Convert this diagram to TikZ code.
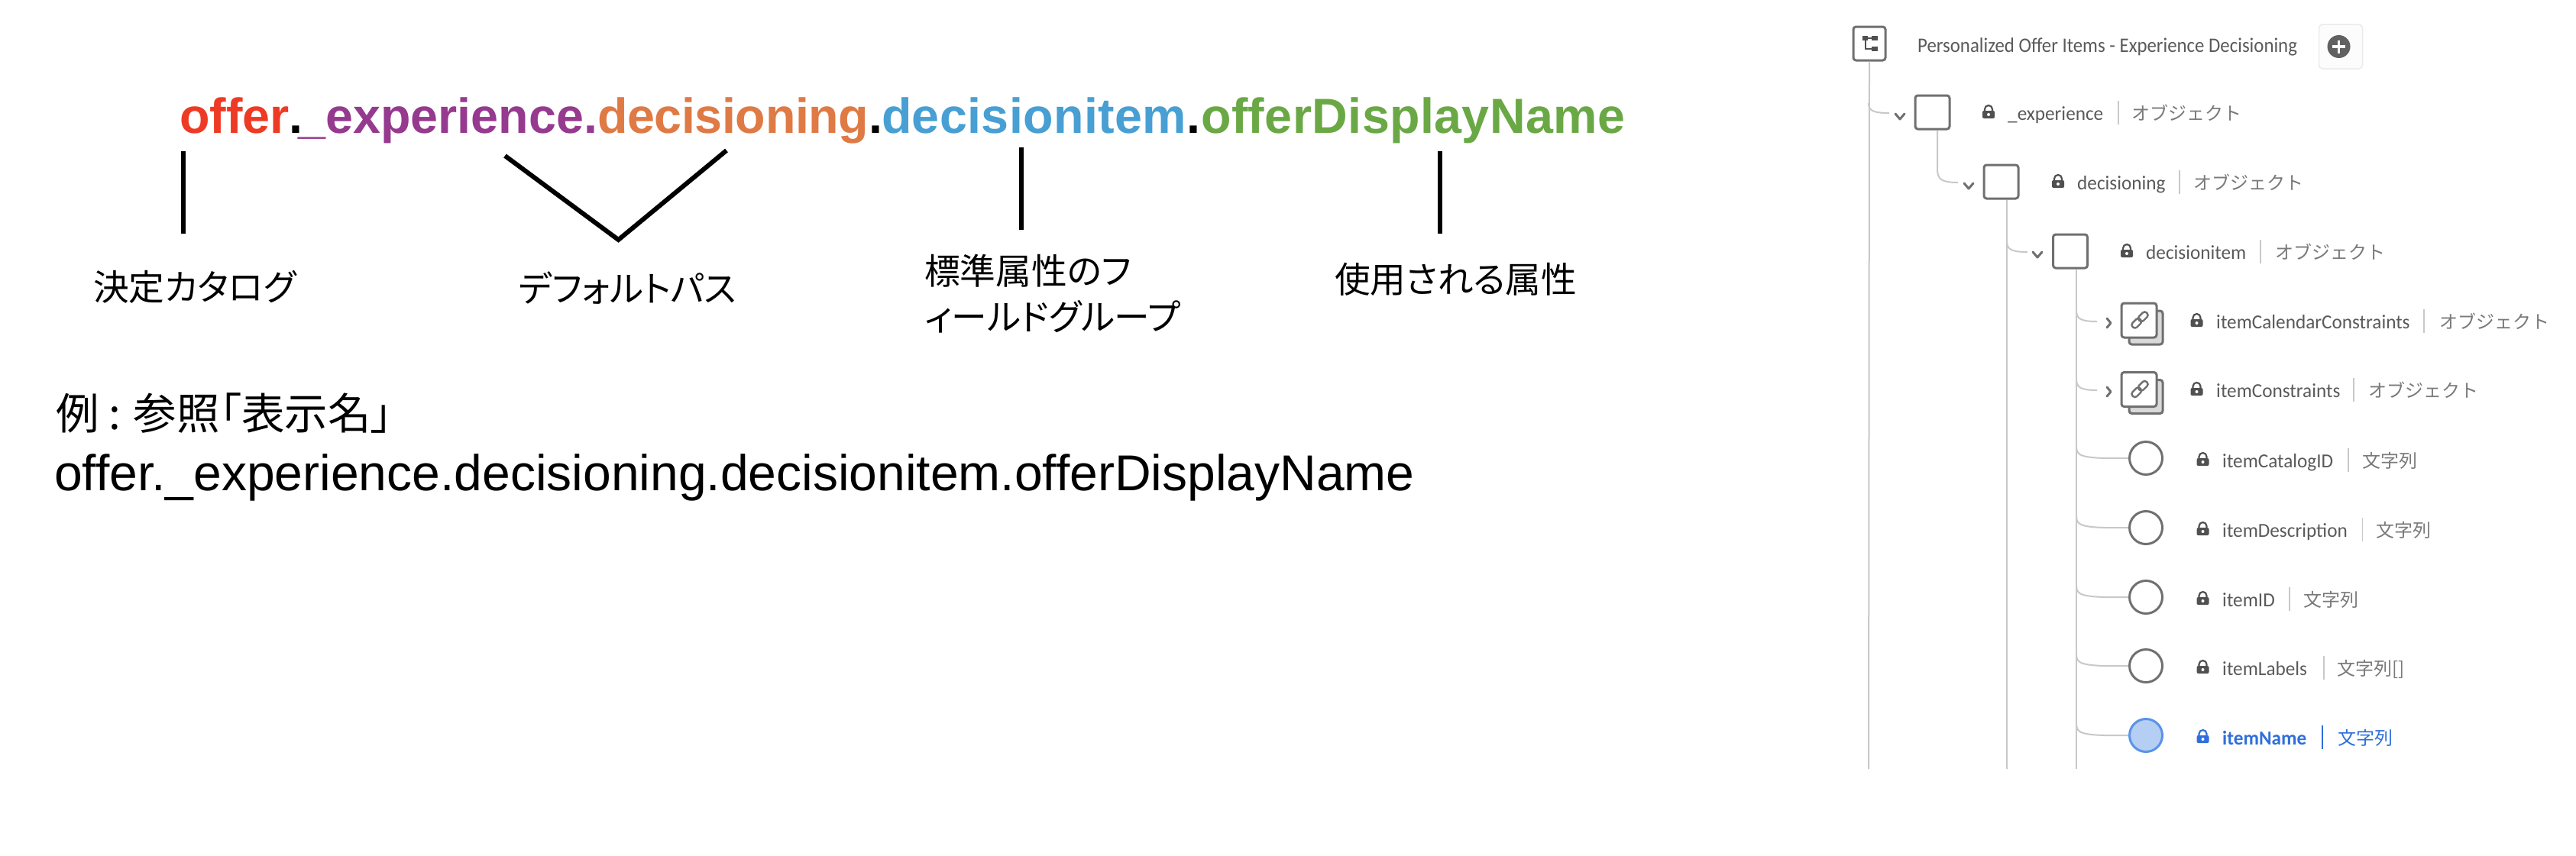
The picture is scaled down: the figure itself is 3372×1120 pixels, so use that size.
\documentclass[tikz,border=0pt]{standalone}
\usepackage{fontspec}
\setmainfont{Liberation Sans}
\newfontfamily\jpf[RawFeature=+palt]{Noto Sans CJK JP}
\newfontfamily\jpfull{Noto Sans CJK JP}
\newfontfamily\uif{Carlito}
\definecolor{cred}{HTML}{EE3A25}
\definecolor{cpurple}{HTML}{953A8F}
\definecolor{corange}{HTML}{DF7A45}
\definecolor{cblue}{HTML}{479FD3}
\definecolor{cgreen}{HTML}{6AA845}
\definecolor{uitext}{HTML}{5A5A5A}
\definecolor{uitype}{HTML}{7A7A7A}
\definecolor{uiline}{HTML}{C8C8C8}
\definecolor{uibox}{HTML}{707070}
\definecolor{uidark}{HTML}{505050}
\definecolor{selblue}{HTML}{2F6FDB}
\definecolor{selfill}{HTML}{B5CEF3}
\definecolor{selline}{HTML}{5A93E8}
\tikzset{
  x=1pt,y=-1pt,
  pointer/.style={line width=6pt,black},
  caption/.style={inner sep=0pt,anchor=west,font=\jpf\fontsize{46.7}{60}\selectfont,align=left},
  pathtext/.style={inner sep=0pt,anchor=base west},
  uiname/.style={inner sep=0pt,anchor=base west,text=uitext,font=\uif\fontsize{26}{30}\selectfont},
  uitypel/.style={inner sep=0pt,anchor=base west,text=uitype,font=\jpfull\fontsize{24}{30}\selectfont},
  uisep/.style={draw=uiline,line width=1.5pt},
  conn/.style={draw=uiline,line width=2pt},
  objbox/.style={draw=uibox,fill=white,line width=3pt,rounded corners=3.5pt,minimum width=45pt,minimum height=44pt,inner sep=0pt},
  backbox/.style={draw=uibox,fill=black!15,line width=3pt,rounded corners=3.5pt,minimum width=44pt,minimum height=44pt,inner sep=0pt},
  leaf/.style={circle,draw=uibox,fill=white,line width=3pt,minimum size=43pt,inner sep=0pt},
  chev/.style={draw=uibox,line width=3pt,line cap=round,line join=round},
}
% lock icon at (x,y) in colour c
\newcommand{\lockicon}[3]{%
  \fill[#3,rounded corners=2pt] (#1-8,#2-1) rectangle (#1+8,#2+9);
  \draw[#3,line width=2.2pt] (#1-5,#2-1) -- (#1-5,#2-3) arc[start angle=180,end angle=360,radius=5] -- (#1+5,#2-1);
  \fill[white] (#1,#2+4) circle (2);
}
\newcommand{\linkicon}[2]{%
  \begin{scope}[shift={(#1,#2)},rotate=45]
    \draw[uibox,line width=2.4pt,rounded corners=3.5pt] (-13,-4) rectangle (1,4);
    \draw[uibox,line width=2.4pt,rounded corners=3.5pt] (-1,-4) rectangle (13,4);
  \end{scope}}
\newcommand{\nm}[1]{\scalebox{.97}[1]{#1}}
\begin{document}
\begin{tikzpicture}
\path[fill=white] (0,0) rectangle (3372,1120);
\useasboundingbox (0,0) rectangle (3372,1120);

% ---------- path ----------
\node[pathtext,font=\bfseries\fontsize{64.6}{70}\selectfont] (title) at (235,174)
 {\textcolor{cred}{offer}.\kern-6pt\textcolor{cpurple}{\_experience.}\textcolor{corange}{\addfontfeature{LetterSpace=-0.6}decisioning}.\kern-1pt\textcolor{cblue}{\addfontfeature{LetterSpace=0.6}decisionitem}.\kern1pt\textcolor{cgreen}{\addfontfeature{LetterSpace=0.6}offerDisplayName}};

\coordinate (p1a) at (240,198); \coordinate (p1b) at (240,306);
\draw[pointer] (p1a) -- (p1b);
\coordinate (v1) at (661,204); \coordinate (v2) at (809.5,314); \coordinate (v3) at (951,197);
\draw[pointer] (v1) -- (v2) -- (v3);
\coordinate (p3a) at (1336.5,193); \coordinate (p3b) at (1336.5,301);
\draw[pointer] (p3a) -- (p3b);
\coordinate (p4a) at (1884.5,198); \coordinate (p4b) at (1884.5,306);
\draw[pointer] (p4a) -- (p4b);

\node[caption] (c1) at (122,376) {決定カタログ};
\node[caption] (c2) at (679,377) {デフォルトパス};
\node[caption] (c3) at (1210,385) {標準属性のフ\\ィールドグループ};
\node[caption] (c4) at (1747,366) {使用される属性};

\node[inner sep=0pt,anchor=west,font=\jpf\fontsize{56.5}{60}\selectfont] (ex1) at (73,541) {例 : 参照「表示名」};
\node[pathtext,font=\fontsize{66}{70}\selectfont] (ex2) at (71,642) {offer.\_experience.decisioning.decisionitem.offerDisplayName};

% ---------- tree connectors ----------
\node[objbox,minimum width=42pt,minimum height=44pt] (root) at (2447,57) {};
\node[objbox] (b1) at (2529.5,147) {};
\node[objbox] (b2) at (2619.5,238) {};
\node[objbox] (b3) at (2710,329) {};
\node[backbox] (s1b) at (2809,429) {};
\node[objbox,minimum width=46pt,minimum height=45pt] (s1) at (2800,419.5) {};
\node[backbox] (s2b) at (2809,519.5) {};
\node[objbox,minimum width=46pt,minimum height=45pt] (s2) at (2800,510) {};
\node[leaf] (l1) at (2809,600) {};
\node[leaf] (l2) at (2809,691) {};
\node[leaf] (l3) at (2809,782) {};
\node[leaf] (l4) at (2809,872) {};
\node[leaf,draw=selline,fill=selfill] (l5) at (2809,963) {};

\coordinate (t0end) at (2446,1007);
\coordinate (t1end) at (2627,1007);
\coordinate (t2end) at (2718,1007);
\draw[conn] (root.south) -- (t0end);
\draw[conn] (b2.south -| t1end) -- (t1end);
\draw[conn] (b3.south -| t2end) -- (t2end);
\draw[conn] (2446,135) .. controls (2446,145) and (2452,148) .. (2473,148);
\draw[conn] (b1.south -| 2536,0) -- (2536,222) .. controls (2536,235) and (2542,239) .. (2563,239);
\draw[conn] (2627,316) .. controls (2627,326) and (2632,330) .. (2654,330);
\draw[conn] (2718,407) .. controls (2718,417) and (2723,421) .. (2745,421);
\draw[conn] (2718,497) .. controls (2718,507) and (2723,511) .. (2745,511);
\draw[conn] (2718,585) .. controls (2718,597) and (2723,601) .. (l1.west);
\draw[conn] (2718,676) .. controls (2718,688) and (2723,692) .. (l2.west);
\draw[conn] (2718,767) .. controls (2718,779) and (2723,783) .. (l3.west);
\draw[conn] (2718,857) .. controls (2718,869) and (2723,873) .. (l4.west);
\draw[conn] (2718,948) .. controls (2718,960) and (2723,964) .. (l5.west);

% root icon
\fill[uidark] (2438,47) rectangle (2445,53);
\fill[uidark] (2450,47) rectangle (2458,53);
\fill[uidark] (2450,61) rectangle (2458,67);
\draw[uidark,line width=2pt] (2441.5,53) -- (2441.5,64) -- (2450,64);
\draw[uidark,line width=2pt] (2445,50) -- (2450,50);

% chevrons
\draw[chev] (2481,149) -- (2487,156) -- (2493,149);
\draw[chev] (2571,240) -- (2577,247) -- (2583,240);
\draw[chev] (2661,330) -- (2667,337) -- (2673,330);
\draw[chev] (2758,417) -- (2763,423) -- (2758,429);
\draw[chev] (2758,507) -- (2763,513) -- (2758,519);
\linkicon{2801}{419}
\linkicon{2801}{509.5}

% title row
\node[inner sep=0pt,anchor=base west,text=uitext,font=\uif\fontsize{27}{30}\selectfont] (rt) at (2510,68) {\scalebox{.92}[1]{Personalized Offer Items - Experience Decisioning}};
\node[draw=black!8,fill=black!1,line width=1.5pt,rounded corners=5pt,minimum width=57pt,minimum height=58pt,inner sep=0pt] (addbtn) at (3064,61) {};
\fill[black!62] (3061.5,61) circle (15);
\draw[white,line width=3.5pt] (3053,61) -- (3070,61) (3061.5,52.5) -- (3061.5,69.5);

% rows
\lockicon{2603}{146}{uidark}
\node[uiname] (n1) at (2628,157) {\nm{\_experience}};
\draw[uisep] (2773,132) -- (2773,163);
\node[uitypel] (y1) at (2790,157) {オブジェクト};

\lockicon{2694}{237}{uidark}
\node[uiname] (n2) at (2719,248) {\nm{decisioning}};
\draw[uisep] (2853,223) -- (2853,254);
\node[uitypel] (y2) at (2871,248) {オブジェクト};

\lockicon{2784}{328}{uidark}
\node[uiname] (n3) at (2809,339) {\nm{decisionitem}};
\draw[uisep] (2959,314) -- (2959,345);
\node[uitypel] (y3) at (2978,339) {オブジェクト};

\lockicon{2875.5}{419}{uidark}
\node[uiname] (n4) at (2901,430) {\nm{itemCalendarConstraints}};
\draw[uisep] (3173,405) -- (3173,436);
\node[uitypel] (y4) at (3193.5,430) {オブジェクト};

\lockicon{2875.5}{509}{uidark}
\node[uiname] (n5) at (2901,520) {\nm{itemConstraints}};
\draw[uisep] (3081,495) -- (3081,526);
\node[uitypel] (y5) at (3100.5,520) {オブジェクト};

\lockicon{2883.5}{601}{uidark}
\node[uiname] (n6) at (2909,612) {\nm{itemCatalogID}};
\draw[uisep] (3074,587) -- (3074,618);
\node[uitypel] (y6) at (3092,612) {文字列};

\lockicon{2883.5}{692}{uidark}
\node[uiname] (n7) at (2909,703) {\nm{itemDescription}};
\draw[uisep] (3092.5,678) -- (3092.5,709);
\node[uitypel] (y7) at (3110.5,703) {文字列};

\lockicon{2883.5}{783}{uidark}
\node[uiname] (n8) at (2909,794) {\nm{itemID}};
\draw[uisep] (2997,769) -- (2997,800);
\node[uitypel] (y8) at (3015,794) {文字列};

\lockicon{2883.5}{873}{uidark}
\node[uiname] (n9) at (2909,884) {\nm{itemLabels}};
\draw[uisep] (3042,859) -- (3042,890);
\node[uitypel] (y9) at (3059,884) {文字列[]};

\lockicon{2883.5}{964}{selblue}
\node[uiname,text=selblue,font=\uif\bfseries\fontsize{26}{30}\selectfont] (n10) at (2909,975) {\nm{itemName}};
\draw[uisep,draw=selblue] (3040,950) -- (3040,981);
\node[uitypel,text=selblue] (y10) at (3060,975) {文字列};
\end{tikzpicture}
\end{document}
